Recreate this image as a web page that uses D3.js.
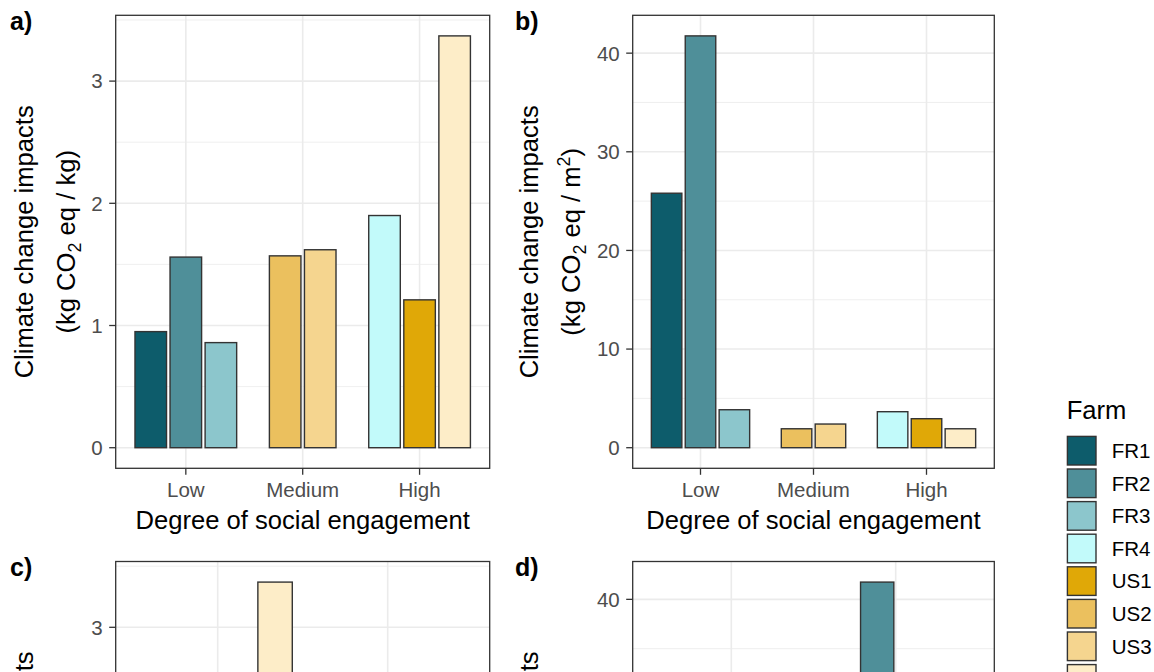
<!DOCTYPE html>
<html>
<head>
<meta charset="utf-8">
<script src="https://cdn.jsdelivr.net/npm/d3@7"></script>
<style>
  html, body { margin: 0; padding: 0; background: #fff; overflow: hidden; }
  svg { display: block; font-family: "Liberation Sans", Arial, sans-serif; }
</style>
</head>
<body>
<svg id="chart" width="1154" height="672"></svg>
<script>
// ---- data ----
const farms = ["FR1", "FR2", "FR3", "FR4", "US1", "US2", "US3", "US4"];
const farmColors = ["#0D5C6B", "#4F8F99", "#8CC6CC", "#C2FAFA", "#E0A807", "#EBC05E", "#F5D58F", "#FDEDC8"];
const engagementLevels = ["Low", "Medium", "High"];
const farmEngagement = ["Low", "Low", "Low", "High", "High", "Medium", "Medium", "High"];
const countryLevels = ["US", "France"];
const farmCountry = ["France", "France", "France", "France", "US", "US", "US", "US"];
const impactPerKg = [0.95, 1.56, 0.86, 1.90, 1.21, 1.57, 1.62, 3.37];
const impactPerM2 = [25.8, 41.75, 3.85, 3.65, 2.94, 1.92, 2.40, 1.92];
const ticksPerKg = [0, 1, 2, 3];
const ticksPerM2 = [0, 10, 20, 30, 40];
const xTitle = "Degree of social engagement";
const legendTitle = "Farm";

// ---- styling ----
const TITLE_SIZE = 25.6;
const TICK_SIZE = 20.5;
const INK = "#333333";
const GRID = "#EBEBEB";
const TICK_TEXT = "#4D4D4D";

const svg = d3.select("#chart");
const H = +svg.attr("height");
const color = d3.scaleOrdinal().domain(farms).range(farmColors);

const panels = [
  { tag: "a)", ox: 0,   oy: 0,     levels: engagementLevels, groups: farmEngagement, values: impactPerKg, ticks: ticksPerKg, unit: "kg", showXTitle: true },
  { tag: "b)", ox: 505, oy: 0,     levels: engagementLevels, groups: farmEngagement, values: impactPerM2, ticks: ticksPerM2, unit: "m2", showXTitle: true },
  { tag: "c)", ox: 0,   oy: 546.2, levels: countryLevels,    groups: farmCountry,    values: impactPerKg, ticks: ticksPerKg, unit: "kg", showXTitle: false },
  { tag: "d)", ox: 505, oy: 546.2, levels: countryLevels,    groups: farmCountry,    values: impactPerM2, ticks: ticksPerM2, unit: "m2", showXTitle: false }
];

function drawPanel(p) {
  const g = svg.append("g");
  const frameLeft = p.unit === "kg" ? 115.7 : 632.7;
  const frameRight = p.unit === "kg" ? 489.7 : 994.3;
  const top = 15.3 + p.oy;
  const bottom = 468.3 + p.oy;

  // discrete x positions, ggplot-like expansion of 0.6 around the categories
  const n = p.levels.length;
  const x = d3.scaleLinear().domain([0.4, n + 0.6]).range([frameLeft, frameRight]);
  const maxV = d3.max(p.values);
  const y = d3.scaleLinear().domain([-0.05 * maxV, 1.05 * maxV]).range([bottom, top]);

  // grid
  const step = p.ticks[1] - p.ticks[0];
  const minor = [];
  for (let v = step / 2; v < 1.05 * maxV; v += step) minor.push(v);
  g.selectAll(".minor").data(minor).join("line")
    .attr("x1", frameLeft).attr("x2", frameRight)
    .attr("y1", d => y(d)).attr("y2", d => y(d))
    .attr("stroke", GRID).attr("stroke-width", 0.8);
  g.selectAll(".major").data(p.ticks).join("line")
    .attr("x1", frameLeft).attr("x2", frameRight)
    .attr("y1", d => y(d)).attr("y2", d => y(d))
    .attr("stroke", GRID).attr("stroke-width", 1.6);
  g.selectAll(".vgrid").data(p.levels).join("line")
    .attr("x1", (d, i) => x(i + 1)).attr("x2", (d, i) => x(i + 1))
    .attr("y1", top).attr("y2", bottom)
    .attr("stroke", GRID).attr("stroke-width", 1.6);

  // dodged bars: same width everywhere, groups centred on their category
  const rows = farms.map((f, i) => ({ farm: f, group: p.groups[i], value: p.values[i] }));
  const counts = p.levels.map(l => rows.filter(r => r.group === l).length);
  const maxCount = d3.max(counts);
  const slot = 0.9 / maxCount;
  const bars = [];
  p.levels.forEach((l, li) => {
    const members = rows.filter(r => r.group === l);
    const start = (li + 1) - members.length * slot / 2;
    members.forEach((r, k) => {
      const c = start + (k + 0.5) * slot;
      bars.push({ ...r, x0: c - slot * 0.45, x1: c + slot * 0.45 });
    });
  });
  g.selectAll(".bar").data(bars).join("rect")
    .attr("x", d => x(d.x0))
    .attr("width", d => x(d.x1) - x(d.x0))
    .attr("y", d => y(d.value))
    .attr("height", d => y(0) - y(d.value))
    .attr("fill", d => color(d.farm))
    .attr("stroke", INK).attr("stroke-width", 1.4);

  // panel border
  g.append("rect")
    .attr("x", frameLeft).attr("y", top)
    .attr("width", frameRight - frameLeft).attr("height", bottom - top)
    .attr("fill", "none").attr("stroke", INK).attr("stroke-width", 1.3);

  // y axis (only the part that lands on the page)
  const shownTicks = p.ticks.filter(d => y(d) < H);
  g.selectAll(".ytick").data(shownTicks).join("line")
    .attr("x1", frameLeft - 6.5).attr("x2", frameLeft)
    .attr("y1", d => y(d)).attr("y2", d => y(d))
    .attr("stroke", INK).attr("stroke-width", 1.3);
  g.selectAll(".ylab").data(shownTicks.filter(d => y(d) + 10 < H)).join("text")
    .attr("x", frameLeft - 13).attr("y", d => y(d)).attr("dy", "0.36em")
    .attr("text-anchor", "end").attr("font-size", TICK_SIZE).attr("fill", TICK_TEXT)
    .text(d => d);

  // x axis
  if (bottom < H) {
    g.selectAll(".xtick").data(p.levels).join("line")
      .attr("x1", (d, i) => x(i + 1)).attr("x2", (d, i) => x(i + 1))
      .attr("y1", bottom).attr("y2", bottom + 6.5)
      .attr("stroke", INK).attr("stroke-width", 1.3);
    g.selectAll(".xlab").data(p.levels).join("text")
      .attr("x", (d, i) => x(i + 1)).attr("y", bottom + 28.7)
      .attr("text-anchor", "middle").attr("font-size", TICK_SIZE).attr("fill", TICK_TEXT)
      .text(d => d);
  }
  if (p.showXTitle) {
    g.append("text")
      .attr("x", (frameLeft + frameRight) / 2).attr("y", bottom + 61)
      .attr("text-anchor", "middle").attr("font-size", TITLE_SIZE).attr("fill", "#000")
      .text(xTitle);
  }

  // y title, two lines
  const cy = (top + bottom) / 2;
  g.append("text")
    .attr("transform", `translate(${p.ox + 33.3},${cy}) rotate(-90)`)
    .attr("text-anchor", "middle").attr("font-size", TITLE_SIZE).attr("fill", "#000")
    .text("Climate change impacts");
  if (cy - 95 < H) {
    const t2 = g.append("text")
      .attr("transform", `translate(${p.ox + 75.3},${cy}) rotate(-90)`)
      .attr("text-anchor", "middle").attr("font-size", TITLE_SIZE).attr("fill", "#000");
    t2.append("tspan").text("(kg CO");
    t2.append("tspan").attr("font-size", TITLE_SIZE * 0.7).attr("dy", 6).text("2");
    if (p.unit === "kg") {
      t2.append("tspan").attr("dy", -6).text(" eq / kg)");
    } else {
      t2.append("tspan").attr("dy", -6).text(" eq / m");
      t2.append("tspan").attr("font-size", TITLE_SIZE * 0.7).attr("dy", -10).text("2");
      t2.append("tspan").attr("dy", 10).text(")");
    }
  }

  // panel tag
  g.append("text")
    .attr("x", p.ox + 10).attr("y", p.oy + 30)
    .attr("font-size", 25).attr("font-weight", "bold").attr("fill", "#000")
    .text(p.tag);
}

panels.forEach(drawPanel);

// ---- legend ----
const legend = svg.append("g");
legend.append("text")
  .attr("x", 1066.7).attr("y", 419)
  .attr("font-size", TITLE_SIZE).attr("fill", "#000")
  .text(legendTitle);
const keyY = d3.scaleLinear().domain([0, 1]).range([435.7, 468.3]);
const keys = legend.selectAll(".key").data(farms).join("g")
  .attr("transform", (d, i) => `translate(1066.7,${keyY(i)})`);
keys.append("rect")
  .attr("x", 0.7).attr("y", 0.7).attr("width", 28.6).attr("height", 28.6)
  .attr("fill", d => color(d)).attr("stroke", INK).attr("stroke-width", 1.4);
keys.filter((d, i) => keyY(i) + 25 < H).append("text")
  .attr("x", 45).attr("y", 15).attr("dy", "0.36em")
  .attr("font-size", TICK_SIZE).attr("fill", "#000")
  .text(d => d);
</script>
</body>
</html>
